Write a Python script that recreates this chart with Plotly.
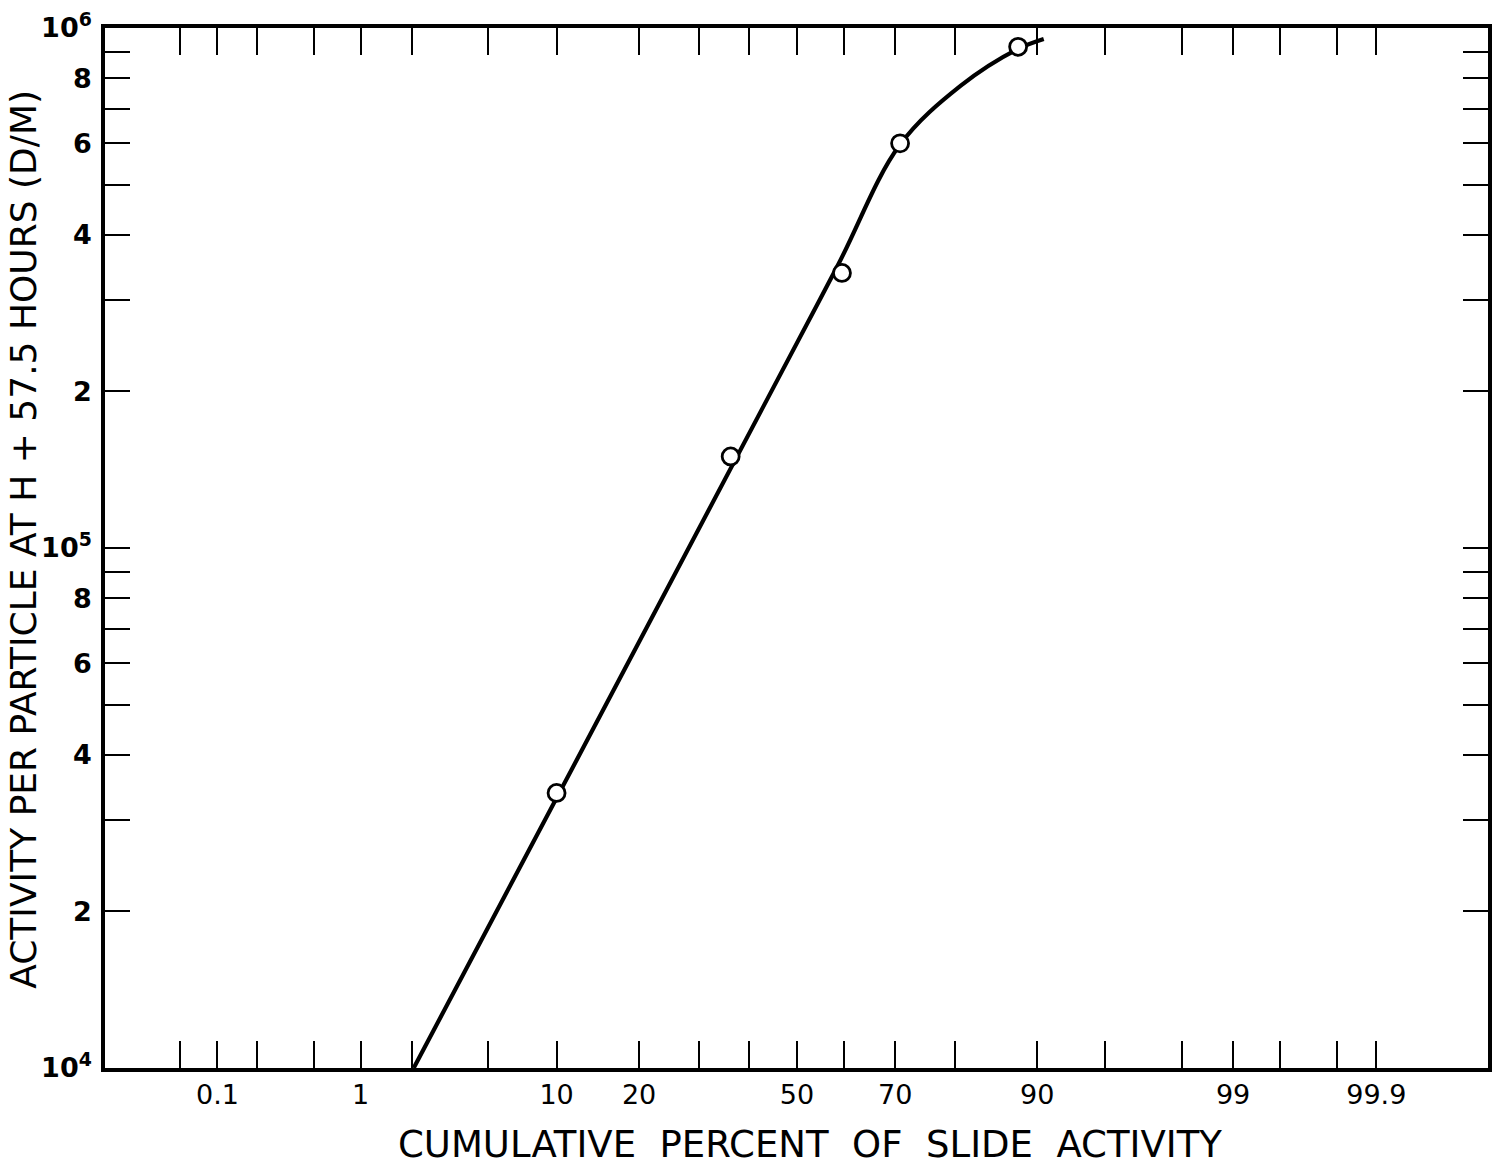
from statistics import NormalDist

import plotly.graph_objects as go

# Measured particles: cumulative percent of slide activity vs activity (d/m)
pct_points = [10.0, 36.2, 59.5, 70.9, 88.1]
activity_points = [3.38e4, 1.50e5, 3.38e5, 6.0e5, 9.2e5]

# Smooth curve drawn through the measurements
pct_curve = [2.05, 13.3, 43.2, 58.6, 70.8, 80.9, 88.1, 90.6]
activity_curve = [1.0e4, 4.31e4, 1.893e5, 3.49e5, 5.949e5, 7.746e5, 9.117e5, 9.528e5]

# Probability-scale ticks (percent)
x_tick_pct = [0.05, 0.1, 0.2, 0.5, 1, 2, 5, 10, 20, 30, 40, 50, 60, 70, 80,
              90, 95, 98, 99, 99.5, 99.8, 99.9]
x_tick_text = ["", "0.1", "", "", "1", "", "", "10", "20", "", "", "50", "",
               "70", "", "90", "", "", "99", "", "", "99.9"]

# Log-scale ticks
y_tick_vals = [1e4, 2e4, 3e4, 4e4, 5e4, 6e4, 7e4, 8e4, 9e4,
               1e5, 2e5, 3e5, 4e5, 5e5, 6e5, 7e5, 8e5, 9e5, 1e6]
y_tick_text = ["10<sup>4</sup>", "2", "", "4", "", "6", "", "8", "",
               "10<sup>5</sup>", "2", "", "4", "", "6", "", "8", "",
               "10<sup>6</sup>"]

nd = NormalDist()


def probit(p):
    """Percent -> standard normal quantile, used as the linear x coordinate."""
    return nd.inv_cdf(p / 100.0)


FONT = "DejaVu Sans"

fig = go.Figure()

fig.add_trace(go.Scatter(
    x=[probit(p) for p in pct_curve], y=activity_curve,
    mode="lines", line=dict(color="black", width=4.2, shape="spline", smoothing=1.0),
    hoverinfo="skip", showlegend=False,
))

fig.add_trace(go.Scatter(
    x=[probit(p) for p in pct_points], y=activity_points,
    mode="markers",
    marker=dict(symbol="circle", size=17, color="white",
                line=dict(color="black", width=2.8)),
    showlegend=False,
))

fig.update_layout(
    width=1500, height=1170,
    margin=dict(l=105, r=8, t=23, b=102),
    paper_bgcolor="white", plot_bgcolor="white",
    font=dict(family=FONT, color="black"),
    xaxis=dict(
        range=[-3.69, 3.686],
        tickmode="array",
        tickvals=[probit(p) for p in x_tick_pct],
        ticktext=x_tick_text,
        ticks="inside", ticklen=27, tickwidth=2, tickcolor="black",
        showline=True, linewidth=3.5, linecolor="black", mirror="ticks",
        showgrid=False, zeroline=False,
        tickfont=dict(family=FONT, size=27, color="black"),
        ticklabelstandoff=0,
    ),
    yaxis=dict(
        type="log", range=[4, 6],
        tickmode="array",
        tickvals=y_tick_vals,
        ticktext=y_tick_text,
        ticks="inside", ticklen=25, tickwidth=2, tickcolor="black",
        showline=True, linewidth=3.5, linecolor="black", mirror="ticks",
        showgrid=False, zeroline=False,
        tickfont=dict(family=FONT, size=27, color="black", weight="bold"),
        ticklabelstandoff=4,
    ),
    annotations=[
        dict(text="CUMULATIVE  PERCENT  OF  SLIDE  ACTIVITY",
             xref="paper", yref="paper", x=0.510, y=-0.0737,
             xanchor="center", yanchor="middle", showarrow=False,
             font=dict(family=FONT, size=37, color="black")),
        dict(text="ACTIVITY PER PARTICLE AT H + 57.5 HOURS (D/M)",
             xref="paper", yref="paper", x=-0.0585, y=0.508,
             xanchor="center", yanchor="middle", textangle=-90, showarrow=False,
             font=dict(family=FONT, size=36, color="black")),
    ],
)

fig.write_html("out.html")
